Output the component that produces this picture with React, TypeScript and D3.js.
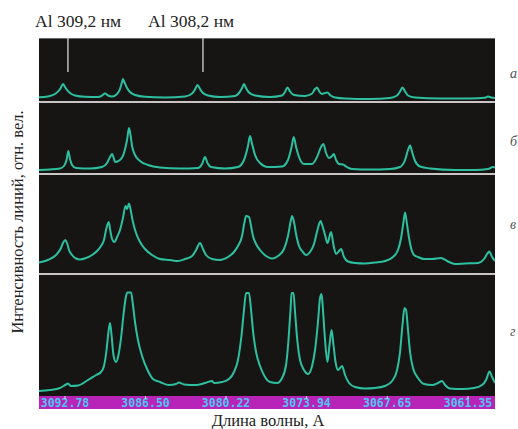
import React from "react";
import * as d3 from "d3";

// ---- data ----
const TICK_WAVELENGTHS = [3092.78, 3086.5, 3080.22, 3073.94, 3067.65, 3061.35];
const TICK_LABELS = ["3092.78", "3086.50", "3080.22", "3073.94", "3067.65", "3061.35"];
const PANEL_LABELS = ["а", "б", "в", "г"];
const INTENSITY_MAX = [63, 70, 98, 121];
const AL_LINE_LABELS = ["Al 309,2 нм", "Al 308,2 нм"];
const AL_LINE_WAVELENGTHS = [3092.55, 3082.02];

const spectrumA: [number, number][] = [
  [3094.81, 3.7], [3094.11, 4.5], [3093.56, 7], [3093.25, 10.5], [3093.09, 13.5], [3092.94, 17],
  [3092.78, 14], [3092.62, 11], [3092.39, 8], [3092.0, 5.5], [3091.22, 4.2], [3090.21, 4],
  [3089.89, 5.5], [3089.66, 7.5], [3089.43, 5.5], [3089.11, 4.5], [3088.72, 7], [3088.49, 12],
  [3088.33, 19], [3088.26, 22], [3088.14, 18.5], [3087.94, 13], [3087.71, 9], [3087.32, 6],
  [3086.54, 4.2], [3084.98, 3.5], [3083.42, 4.5], [3082.87, 7.5], [3082.64, 11.5], [3082.45, 16],
  [3082.25, 12], [3082.02, 8], [3081.63, 5.5], [3080.69, 4], [3079.52, 5], [3079.21, 8],
  [3078.97, 13], [3078.82, 17], [3078.66, 13], [3078.43, 8.5], [3077.96, 5.5], [3076.79, 4],
  [3075.85, 5.5], [3075.62, 9], [3075.43, 13.5], [3075.23, 9.5], [3074.92, 6], [3074.06, 5],
  [3073.51, 7.5], [3073.28, 12], [3073.12, 13.5], [3072.97, 10], [3072.73, 7], [3072.5, 8],
  [3072.31, 8.5], [3072.11, 6], [3071.72, 3.5], [3070.94, 2.5], [3068.99, 2], [3067.43, 3],
  [3066.88, 5.5], [3066.65, 9.5], [3066.46, 13.5], [3066.26, 9.5], [3066.03, 5.5], [3065.48, 3.5],
  [3063.53, 2.5], [3061.19, 2.5], [3060.02, 3.2], [3059.79, 4.5], [3059.55, 3.5], [3059.24, 3],
];

const spectrumB: [number, number][] = [
  [3094.81, 3], [3093.95, 3.5], [3093.17, 4.5], [3092.86, 7], [3092.66, 13], [3092.52, 22],
  [3092.39, 14], [3092.23, 8], [3091.92, 5], [3090.83, 4.5], [3089.89, 6], [3089.5, 10],
  [3089.27, 16], [3089.11, 19], [3088.96, 14], [3088.88, 11], [3088.49, 13], [3088.18, 20],
  [3087.94, 33], [3087.79, 45], [3087.67, 38], [3087.55, 27], [3087.32, 18], [3086.93, 12],
  [3086.31, 8], [3085.37, 5.5], [3083.81, 4.5], [3082.41, 5], [3082.09, 9], [3081.86, 16],
  [3081.67, 10], [3081.39, 6], [3080.3, 4.5], [3079.29, 6], [3078.82, 13], [3078.51, 27],
  [3078.35, 37], [3078.19, 29], [3077.96, 18], [3077.57, 10], [3076.95, 6], [3075.85, 6.5],
  [3075.39, 13], [3075.11, 26], [3074.94, 36], [3074.76, 26], [3074.53, 16], [3074.14, 9],
  [3073.51, 9], [3073.12, 16], [3072.81, 26], [3072.63, 29], [3072.42, 20], [3072.19, 15],
  [3071.95, 17], [3071.82, 19], [3071.64, 13], [3071.41, 9], [3071.1, 8.5], [3070.86, 6.5],
  [3070.39, 4], [3068.99, 3.5], [3067.43, 4], [3066.65, 6], [3066.26, 13], [3066.03, 23],
  [3065.87, 27.5], [3065.71, 21], [3065.48, 12], [3065.09, 6.5], [3064.31, 4.5], [3062.36, 3],
  [3060.8, 3], [3059.79, 4], [3059.4, 6], [3059.24, 5.5],
];

const spectrumC: [number, number][] = [
  [3094.81, 10.5], [3094.11, 13], [3093.48, 18], [3093.09, 25], [3092.94, 30], [3092.76, 33],
  [3092.62, 30], [3092.47, 23], [3092.23, 18], [3091.92, 14.5], [3091.61, 13.5], [3091.14, 15],
  [3090.67, 18], [3090.28, 22], [3089.97, 27], [3089.74, 33], [3089.58, 43], [3089.37, 51],
  [3089.23, 41], [3089.11, 34], [3088.93, 31], [3088.72, 36], [3088.49, 43], [3088.26, 55],
  [3088.06, 67], [3087.94, 64], [3087.79, 69.5], [3087.63, 61], [3087.48, 51], [3087.24, 40],
  [3086.93, 31], [3086.54, 24], [3085.99, 18], [3085.37, 14], [3084.59, 13], [3083.97, 12],
  [3083.42, 14], [3082.87, 17], [3082.56, 23], [3082.25, 30], [3082.02, 24], [3081.78, 18],
  [3081.31, 14], [3080.69, 13], [3080.07, 16], [3079.6, 21], [3079.29, 27], [3078.97, 37],
  [3078.78, 51], [3078.66, 57], [3078.43, 56], [3078.27, 47], [3078.12, 37], [3077.88, 29],
  [3077.57, 23], [3077.1, 17], [3076.63, 14.5], [3076.17, 17], [3075.7, 24], [3075.39, 37],
  [3075.19, 51], [3075.07, 57], [3074.92, 51], [3074.76, 39], [3074.53, 27], [3074.29, 22],
  [3073.98, 18], [3073.67, 21], [3073.36, 29], [3073.09, 43], [3072.85, 52], [3072.7, 47],
  [3072.5, 38], [3072.31, 30], [3072.03, 41], [3071.84, 28], [3071.64, 19], [3071.41, 22],
  [3071.25, 24], [3071.02, 16], [3070.71, 11.5], [3070.16, 10], [3069.38, 9.5], [3068.6, 10.5],
  [3067.82, 12], [3067.2, 16], [3066.81, 23], [3066.57, 35], [3066.38, 51], [3066.26, 60.5],
  [3066.1, 48], [3065.95, 35], [3065.79, 25], [3065.56, 18], [3065.25, 16], [3064.78, 14],
  [3064.15, 14], [3063.45, 15], [3062.98, 12], [3062.36, 9], [3061.58, 9.5], [3060.57, 10],
  [3060.1, 14], [3059.86, 19], [3059.69, 21.5], [3059.47, 16], [3059.24, 12],
];

const spectrumD: [number, number][] = [
  [3094.81, 5], [3093.95, 6], [3093.17, 8], [3092.7, 11.5], [3092.55, 12.5], [3092.31, 10],
  [3091.77, 10.5], [3090.99, 16], [3090.36, 21], [3089.97, 24], [3089.74, 30], [3089.54, 46],
  [3089.39, 64], [3089.27, 73], [3089.15, 61], [3089.0, 41], [3088.8, 34], [3088.61, 41],
  [3088.41, 58], [3088.22, 81], [3088.02, 100], [3087.91, 103.5], [3087.63, 103.5], [3087.48, 91],
  [3087.32, 74], [3087.09, 56], [3086.77, 40], [3086.38, 27], [3085.92, 17], [3085.37, 14],
  [3084.67, 11], [3084.12, 12], [3083.89, 13.5], [3083.5, 11.5], [3082.56, 11], [3081.86, 13],
  [3081.31, 15], [3081.16, 13], [3080.53, 14], [3079.99, 17], [3079.6, 24], [3079.29, 36],
  [3079.01, 61], [3078.82, 86], [3078.66, 103], [3078.43, 103], [3078.27, 86], [3078.08, 61],
  [3077.88, 44], [3077.57, 30], [3077.18, 19], [3076.79, 14], [3076.24, 13], [3075.85, 18],
  [3075.54, 31], [3075.35, 56], [3075.19, 86], [3075.11, 103], [3074.96, 103], [3074.84, 84],
  [3074.65, 54], [3074.45, 36], [3074.14, 26], [3073.83, 22], [3073.51, 30], [3073.28, 46],
  [3073.05, 74], [3072.89, 98], [3072.77, 102], [3072.66, 86], [3072.5, 56], [3072.31, 34],
  [3072.15, 51], [3071.99, 66], [3071.84, 51], [3071.68, 34], [3071.49, 26], [3071.33, 28],
  [3071.17, 30], [3070.94, 21], [3070.63, 13], [3070.16, 9], [3069.38, 7.5], [3068.6, 8],
  [3067.82, 10], [3067.27, 15], [3066.88, 26], [3066.65, 44], [3066.46, 71], [3066.3, 88],
  [3066.18, 86], [3066.03, 66], [3065.87, 44], [3065.64, 28], [3065.25, 18], [3064.78, 12],
  [3064.15, 11], [3063.69, 13], [3063.37, 15], [3063.14, 11], [3062.75, 7.5], [3061.81, 7],
  [3060.88, 8], [3060.25, 11], [3059.94, 16], [3059.67, 24.5], [3059.47, 19], [3059.24, 13],
];

const SPECTRA = [spectrumA, spectrumB, spectrumC, spectrumD];

// ---- layout ----
const W = 518;
const H = 429;
const PLOT_LEFT = 39;
const PLOT_RIGHT = 495;
const PANEL_TOPS = [38, 103, 175, 275];
const PANEL_BOTTOMS = [101, 173, 273, 396];
const SEPARATORS = [102, 174, 274];
const BAR_TOP = 396;
const BAR_BOTTOM = 409;
const LABEL_Y = [78, 146, 229, 336];
const AL_TEXT_X = [35, 148];

export default function App() {
  const x = d3.scaleLinear().domain([3092.78, 3061.35]).range([65, 468]);

  return (
    <svg
      width={W}
      height={H}
      viewBox={`0 0 ${W} ${H}`}
      style={{ position: "absolute", left: 0, top: 0, background: "#fff" }}
    >
      <defs>
        {PANEL_TOPS.map((t, i) => (
          <clipPath id={`clip${i}`} key={i}>
            <rect x={PLOT_LEFT} y={t} width={PLOT_RIGHT - PLOT_LEFT} height={PANEL_BOTTOMS[i] - t} />
          </clipPath>
        ))}
      </defs>
      <rect x={0} y={0} width={W} height={H} fill="#fff" />
      <rect x={PLOT_LEFT} y={PANEL_TOPS[0]} width={PLOT_RIGHT - PLOT_LEFT} height={BAR_TOP - PANEL_TOPS[0]} fill="#171514" />
      <line x1={PLOT_LEFT} x2={PLOT_RIGHT} y1={PANEL_TOPS[0] + 0.5} y2={PANEL_TOPS[0] + 0.5} stroke="#6a6868" strokeWidth={1} />
      {SEPARATORS.map((s, i) => (
        <line key={i} x1={PLOT_LEFT} x2={PLOT_RIGHT} y1={s} y2={s} stroke="#c9c5c5" strokeWidth={2.2} />
      ))}
      {SPECTRA.map((data, i) => {
        const y = d3.scaleLinear().domain([0, INTENSITY_MAX[i]]).range([PANEL_BOTTOMS[i], PANEL_TOPS[i]]);
        const line = d3
          .line<[number, number]>()
          .x((d) => x(d[0]))
          .y((d) => y(d[1]))
          .curve(d3.curveMonotoneX);
        return (
          <path
            key={i}
            d={line(data) || ""}
            fill="none"
            stroke="#2dc0a0"
            strokeWidth={2}
            strokeLinejoin="round"
            clipPath={`url(#clip${i})`}
          />
        );
      })}
      {AL_LINE_WAVELENGTHS.map((wl, i) => (
        <g key={i}>
          <line x1={x(wl)} x2={x(wl)} y1={PANEL_TOPS[0]} y2={72} stroke="#d8d8d8" strokeWidth={1.3} />
          <text
            x={AL_TEXT_X[i]}
            y={27}
            fontFamily="'Liberation Serif', 'Times New Roman', serif"
            fontSize={17.5}
            fill="#222"
          >
            {AL_LINE_LABELS[i]}
          </text>
        </g>
      ))}
      <rect x={PLOT_LEFT} y={BAR_TOP} width={PLOT_RIGHT - PLOT_LEFT} height={BAR_BOTTOM - BAR_TOP} fill="#b823b8" />
      {TICK_WAVELENGTHS.map((wl, i) => (
        <g key={i}>
          <text
            x={x(wl)}
            y={406.5}
            textAnchor="middle"
            fontFamily="'DejaVu Sans Mono', monospace"
            fontWeight="bold"
            fontSize={11.5}
            fill="#4cc6f2"
          >
            {TICK_LABELS[i]}
          </text>
          <line x1={x(wl)} x2={x(wl)} y1={BAR_TOP} y2={BAR_TOP + 3} stroke="#d8e8f0" strokeWidth={1} />
        </g>
      ))}
      {PANEL_LABELS.map((l, i) => (
        <text
          key={i}
          x={510}
          y={LABEL_Y[i]}
          fontFamily="'Liberation Serif', 'Times New Roman', serif"
          fontStyle="italic"
          fontSize={14}
          fill="#555"
        >
          {l}
        </text>
      ))}
      <text
        transform="translate(23,222) rotate(-90)"
        textAnchor="middle"
        fontFamily="'Liberation Serif', 'Times New Roman', serif"
        fontSize={16.5}
        fill="#222"
      >
        Интенсивность линий, отн. вел.
      </text>
      <text
        x={268}
        y={426}
        textAnchor="middle"
        fontFamily="'Liberation Serif', 'Times New Roman', serif"
        fontSize={16.5}
        fill="#222"
      >
        Длина волны, А
      </text>
    </svg>
  );
}
